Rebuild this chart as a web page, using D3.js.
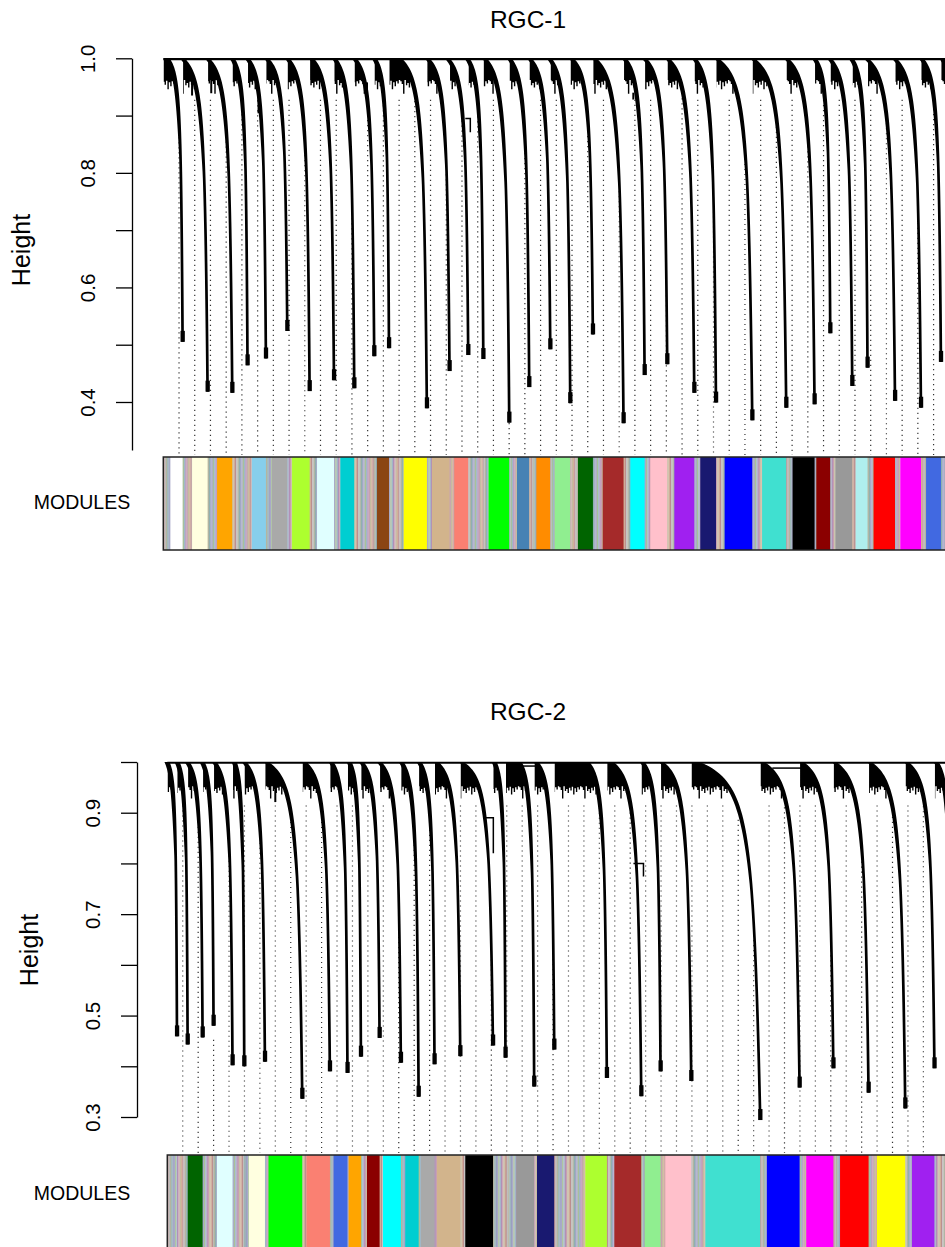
<!DOCTYPE html>
<html><head><meta charset="utf-8">
<script src="https://cdn.jsdelivr.net/npm/d3@7"></script>
<style>
body{margin:0;background:#fff}
svg{display:block}
text{font-family:"Liberation Sans",Arial,Helvetica,sans-serif}
</style>
</head><body>
<svg id="c" width="945" height="1247"></svg>
<script>
// ---------------- DATA (leaf positions in dendrogram order units, heights) ----------------
const RGC1_TIPS = [12.3,28.2,43.9,53.6,65.3,78.9,93.1,108.6,121.5,134.2,143.6,167.7,182.1,194.0,203.6,220.1,232.8,246.2,258.9,273.3,292.8,306.2,320.6,337.8,351.6,374.7,396.3,414.3,424.3,438.3,448.0,465.5,482.0,494.7,506.0];
const RGC1_CURVE_START = [3.2,12.7,28.6,44.5,54.1,66.2,79.5,94.8,109.4,122.1,134.9,150.8,168.6,181.3,194.0,205.0,220.7,233.5,246.2,260.2,274.8,293.9,306.6,321.2,338.4,352.4,375.3,396.9,414.8,424.3,438.3,447.8,465.6,482.8,496.0];
const RGC1_TIP_HEIGHT = [0.505,0.418,0.416,0.464,0.476,0.524,0.419,0.438,0.424,0.480,0.494,0.389,0.454,0.482,0.475,0.364,0.426,0.492,0.398,0.518,0.363,0.447,0.466,0.416,0.399,0.368,0.390,0.396,0.520,0.428,0.460,0.402,0.390,0.470,0.450];
const RGC1_COLORS = ["#ffffff","#ffffe0","#ffa500",null,"#87ceeb","#a9a9a9","#adff2f","#e0ffff","#00ced1",null,"#8b4513","#ffff00","#d2b48c","#fa8072",null,"#00ff00","#4682b4","#ff8c00","#90ee90","#006400","#a52a2a","#00ffff","#ffc0cb","#a020f0","#191970","#0000ff","#40e0d0","#000000","#8b0000","#999999","#afeeee","#ff0000","#ff00ff","#4169e1",null];
const RGC1_COLOR_START = [4.5,18.3,34.2,null,56.4,69.1,81.9,97.8,112.6,null,135.9,152.9,170.9,185.1,null,206.9,225.0,237.3,248.9,263.8,279.5,297.1,309.8,325.1,341.6,357.1,380.9,400.3,415.4,427.5,440.6,451.8,468.8,485.2,null];
const RGC1_TICKS = [0.4,0.5,0.6,0.7,0.8,0.9,1.0];
const RGC1_TICK_LABELS = ["0.4","0.6","0.8","1.0"];
const RGC1_STUBS = [[18.3,0.974,0.935],[30.5,0.967,0.939],[60.6,0.944,0.904],[129.6,0.958,0.940],[299.0,0.940,0.928]];
const RGC1_HOOKS = [[192.1,195.3,0.895,0.871]];
const RGC1_LINKS = [];

const RGC2_TIPS = [6.3,13.2,22.9,30.0,42.3,49.9,63.3,87.5,105.4,116.8,125.5,137.6,151.4,162.9,173.2,189.9,211.1,219.2,237.8,250.8,284.9,307.2,319.7,339.6,384.3,409.8,431.7,454.5,478.3,497.2,508.0];
const RGC2_CURVE_START = [0.6,7.1,13.6,23.3,31.1,44.1,50.5,64.8,89.4,106.9,118.6,126.4,138.0,152.3,163.9,175.0,191.2,212.6,228.8,239.8,272.8,288.4,308.5,320.8,344.1,386.2,411.6,432.8,455.6,479.6,499.0];
const RGC2_TIP_HEIGHT = [0.459,0.443,0.457,0.480,0.402,0.400,0.409,0.336,0.390,0.387,0.419,0.456,0.407,0.340,0.404,0.420,0.441,0.417,0.360,0.433,0.377,0.341,0.390,0.371,0.294,0.358,0.396,0.348,0.317,0.396,0.450];
const RGC2_COLORS = [null,null,"#006400",null,"#e0ffff",null,"#ffffe0","#00ff00","#fa8072","#4169e1","#ffa500","#8b0000","#00ffff","#00ced1","#a9a9a9","#d2b48c","#000000",null,"#999999","#191970","#adff2f","#a52a2a","#90ee90","#ffc0cb","#40e0d0","#0000ff","#ff00ff","#ff0000","#ffff00","#a020f0",null];
const RGC2_COLOR_START = [null,null,13.2,null,32.2,null,52.9,65.6,90.1,107.8,117.5,129.4,139.8,154.2,164.4,174.8,193.1,null,226.2,239.6,270.9,289.7,309.3,322.7,348.7,388.6,414.1,436.0,459.9,482.6,null];
const RGC2_TICKS = [0.3,0.4,0.5,0.6,0.7,0.8,0.9,1.0];
const RGC2_TICK_LABELS = ["0.3","0.5","0.7","0.9"];
const RGC2_STUBS = [[70.0,0.959,0.921]];
const RGC2_HOOKS = [[204.8,211.3,0.890,0.820],[302.1,308.6,0.800,0.774]];
const RGC2_LINKS = [[226.0,239.0,0.992],[392.1,411.5,0.988]];

const GUIDE_POS = [10,20,30,40,50,60,70,80,90,100,110,120,130,140,150,160,170,180,190,200,210,220,230,240,250,260,270,280,290,300,310,320,330,340,350,360,370,380,390,400,410,420,430,440,450,460,470,480,490];

// styling constants (not data)
const MIX = ["#bc8f8f","#a9a9c9","#c4bca0","#8fb0b0","#b090b8","#bebebe","#a8c09a","#d2b09a","#9aa0c0","#c8a0b0","#b4b4a0","#a0b8c8"];
const JAG = [0.000,0.006,0.002,0.011,0.004,0.016,0.001,0.008,0.003,0.013,0.005,0.009,0.000,0.024,0.007,0.002];

const panels = [
  {title:"RGC-1", titleY:28, tips:RGC1_TIPS, cs:RGC1_CURVE_START, hts:RGC1_TIP_HEIGHT, cols:RGC1_COLORS, cst:RGC1_COLOR_START,
   ticks:RGC1_TICKS, labels:RGC1_TICK_LABELS, stubs:RGC1_STUBS, hooks:RGC1_HOOKS, links:RGC1_LINKS,
   x0:163.3, unit:1.572, yDom:[0.3162,1.0], yRng:[450,58.3], axisX:132, guideBottom:455,
   barTop:457, barBottom:550, hBlob:0.962, heightX:30, heightY:250, modY:509},
  {title:"RGC-2", titleY:720, tips:RGC2_TIPS, cs:RGC2_CURVE_START, hts:RGC2_TIP_HEIGHT, cols:RGC2_COLORS, cst:RGC2_COLOR_START,
   ticks:RGC2_TICKS, labels:RGC2_TICK_LABELS, stubs:RGC2_STUBS, hooks:RGC2_HOOKS, links:RGC2_LINKS,
   x0:167.3, unit:1.543, yDom:[0.3,1.0], yRng:[1117,762], axisX:137, guideBottom:1153,
   barTop:1155, barBottom:1252, hBlob:0.952, heightX:38, heightY:950, modY:1200}
];

const svg = d3.select("#c");
const A = 0.07;
const dFrac = u => A/(u+A) - A/(1+A)*u;
const US = d3.range(0, 61).map(k => (k/60)*(k/60));

panels.forEach(p => {
  const x = d3.scaleLinear().domain([0, 510]).range([p.x0, p.x0 + 510*p.unit]);
  const y = d3.scaleLinear().domain(p.yDom).range(p.yRng);
  const mods = p.tips.map((t, i) => ({i, rs: i ? p.tips[i-1] : 0, cs: p.cs[i], tip: t, hTip: p.hts[i], col: p.cols[i], cst: p.cst[i]}));
  const curveX = (m, h) => { const u = Math.max(0, Math.min(1, (1-h)/(1-m.hTip))); return m.tip - (m.tip - m.cs)*dFrac(u); };
  const curveH = (m, xu) => {
    const target = (m.tip - xu)/(m.tip - m.cs);
    let lo = 0, hi = 1;
    for (let k = 0; k < 40; k++) { const mid = (lo+hi)/2; if (dFrac(mid) > target) lo = mid; else hi = mid; }
    return 1 - lo*(1 - m.hTip);
  };

  // title
  svg.append("text").attr("x", 528).attr("y", p.titleY).attr("text-anchor","middle")
     .style("font-size","24.5px").text(p.title);

  // guides
  const gG = svg.append("g");
  GUIDE_POS.forEach(gp => {
    const m = mods.find(mm => gp > mm.rs && gp <= mm.tip) || mods[mods.length-1];
    const xcB = curveX(m, p.hBlob);
    let h = gp <= xcB ? p.hBlob - 0.01 : curveH(m, gp);
    const y0 = y(h) + 14;
    gG.append("line").attr("x1", x(gp)).attr("x2", x(gp)).attr("y1", y0).attr("y2", p.guideBottom)
      .attr("stroke","#333").attr("stroke-width",1.2).attr("stroke-dasharray","1.2 3.8");
  });

  const gD = svg.append("g");
  // top merge line
  gD.append("line").attr("x1", x(0)).attr("x2", x(510)).attr("y1", y(0.9985)).attr("y2", y(0.9985))
    .attr("stroke","#000").attr("stroke-width",2.2);

  mods.forEach(m => {
    // blob of high-hanging leaves
    const uB = (1 - p.hBlob)/(1 - m.hTip);
    const pts = [[x(m.rs + 0.3), y(1.0)]];
    US.filter(u => u < uB).forEach(u => { const h = 1 - u*(1-m.hTip); pts.push([x(curveX(m,h)), y(h)]); });
    const xc = curveX(m, p.hBlob);
    pts.push([x(xc), y(p.hBlob)]);
    let j = 0;
    for (let xu = xc; xu > m.rs + 0.3; xu -= 0.9, j++) {
      const h = p.hBlob - JAG[(j + m.i*5) % JAG.length];
      const xa = Math.max(m.rs + 0.3, xu - 0.9);
      pts.push([x(xu), y(h)], [x(xa), y(h)]);
    }
    pts.push([x(m.rs + 0.3), y(p.hBlob)]);
    gD.append("path").attr("d", "M" + pts.map(q => q.join(",")).join("L") + "Z").attr("fill","#000");

    // stem
    const sp = US.map(u => { const h = 1 - u*(1-m.hTip); return [x(curveX(m,h)), y(h), u]; });
    const right = sp.map(([a,b]) => [a + 1.3, b]);
    const left = sp.map(([a,b,u]) => [a - 1.4 - 2.4*Math.max(0, 1 - u/0.35), b]).reverse();
    gD.append("path").attr("d", "M" + right.concat(left).map(q => q[0]+","+q[1]).join("L") + "Z").attr("fill","#000");

    // tip (tightest genes)
    gD.append("rect").attr("x", x(m.tip) - 2.1).attr("y", y(m.hTip) - 11).attr("width", 4.3).attr("height", 11).attr("fill","#000");
  });

  p.stubs.forEach(([xu,h1,h2]) => gD.append("line").attr("x1",x(xu)).attr("x2",x(xu)).attr("y1",y(h1)).attr("y2",y(h2))
      .attr("stroke","#000").attr("stroke-width",2));
  p.hooks.forEach(([x1,x2,h1,h2]) => gD.append("path").attr("d",`M${x(x1)},${y(h1)}H${x(x2)}V${y(h2)}`)
      .attr("fill","none").attr("stroke","#000").attr("stroke-width",1.5));
  p.links.forEach(([x1,x2,h]) => gD.append("line").attr("x1",x(x1)).attr("x2",x(x2)).attr("y1",y(h)).attr("y2",y(h))
      .attr("stroke","#000").attr("stroke-width",1.5));

  // axis
  const ax = d3.axisLeft(y).tickValues(p.ticks).tickSize(16).tickSizeOuter(0)
    .tickFormat(d => p.labels.includes(d.toFixed(1)) ? d.toFixed(1) : "");
  const gA = svg.append("g").attr("transform", `translate(${p.axisX},0)`).call(ax)
    .attr("font-family","Liberation Sans, Arial, sans-serif").attr("font-size",20.5);
  gA.select(".domain").attr("stroke-width",1.3);
  gA.selectAll(".tick line").attr("stroke-width",1.3);
  gA.selectAll(".tick text").attr("transform","rotate(-90)").attr("x",0).attr("y",-37).attr("dy",0)
    .attr("text-anchor","middle").attr("fill","#000");

  svg.append("text").attr("transform", `translate(${p.heightX},${p.heightY}) rotate(-90)`)
     .attr("text-anchor","middle").style("font-size","25px").text("Height");

  // module colour bar
  const gB = svg.append("g");
  const bh = p.barBottom - p.barTop;
  let k = 0;
  mods.forEach(m => {
    const solidStart = m.col ? m.cst : m.tip;
    for (let px = x(m.rs); px < x(solidStart); px += 1.3, k++) {
      gB.append("rect").attr("x", px).attr("y", p.barTop).attr("width", 1.4).attr("height", bh)
        .attr("fill", MIX[(k*5) % MIX.length]);
    }
    if (m.col) gB.append("rect").attr("x", x(m.cst)).attr("y", p.barTop).attr("width", x(m.tip) - x(m.cst) + 0.4)
        .attr("height", bh).attr("fill", m.col);
  });
  gB.append("rect").attr("x", x(0)).attr("y", p.barTop).attr("width", x(510) - x(0)).attr("height", bh)
    .attr("fill","none").attr("stroke","#222").attr("stroke-width",1.5);

  svg.append("text").attr("x", 82).attr("y", p.modY).attr("text-anchor","middle")
     .style("font-size","19.5px").text("MODULES");
});
</script>
</body></html>
